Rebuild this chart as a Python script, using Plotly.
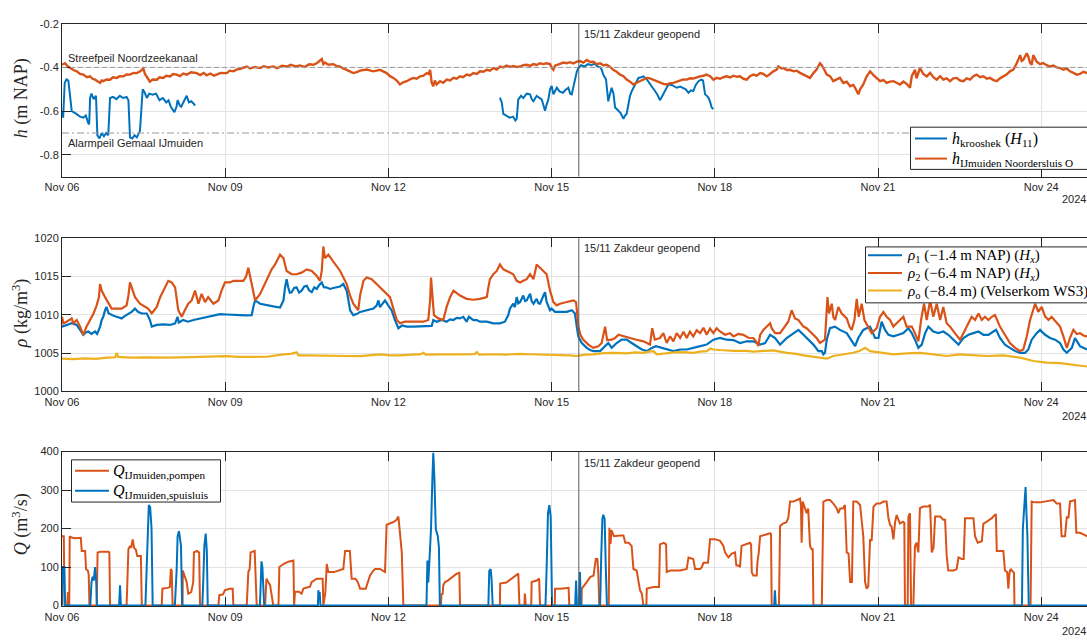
import pandas as pd
import plotly.graph_objects as go

# ---------------------------------------------------------------------------
# Time base: every series is stored as (hours since T0, value)
# ---------------------------------------------------------------------------
T0 = pd.Timestamp("2024-11-06 00:00")
T_END_HOURS = 452.2
T_ZAKDEUR = pd.Timestamp("2024-11-15 12:00")

BLUE = "#0072BD"
ORANGE = "#D95319"
YELLOW = "#EDB120"
INK = "#262626"
GRID = "#e3e3e3"

# Water level at the trash rack (two measurement periods), m NAP
h_krooshek_a = [
    (0, -0.60), (0.5, -0.63), (1.2, -0.47), (2, -0.455), (2.8, -0.46), (3.5, -0.53), (4.3, -0.60),
    (6, -0.61), (8, -0.625), (9.4, -0.63), (10.5, -0.62), (11.6, -0.655), (12, -0.66), (12.4, -0.54),
    (13, -0.52), (14, -0.545), (15, -0.53), (15.6, -0.71), (16.5, -0.725), (17.5, -0.70), (18.5, -0.715),
    (19.5, -0.70), (20.4, -0.71), (21.2, -0.54), (22.5, -0.535), (24, -0.545), (25.5, -0.53), (27, -0.54),
    (28.5, -0.535), (29.3, -0.55), (30, -0.72), (31, -0.725), (32, -0.71), (33, -0.72), (34.4, -0.69),
    (35.6, -0.50), (36.5, -0.515), (37.4, -0.54), (38.5, -0.52), (40, -0.525), (41.5, -0.52), (43, -0.55),
    (44.5, -0.54), (46, -0.56), (47, -0.55), (48, -0.58), (49.6, -0.605), (50.5, -0.58), (51, -0.55),
    (52, -0.575), (52.6, -0.58), (54, -0.55), (55, -0.53), (56, -0.56), (57, -0.555), (58, -0.565),
    (58.7, -0.575),
]
h_krooshek_b = [
    (193.2, -0.538), (194, -0.56), (194.7, -0.613), (196, -0.62), (197.5, -0.63), (199, -0.625),
    (200, -0.643), (200.6, -0.635), (201.3, -0.546), (202.5, -0.53), (203.5, -0.54), (205, -0.52),
    (206.5, -0.523), (207.2, -0.545), (208, -0.555), (209.4, -0.53), (210.5, -0.54), (211.6, -0.546),
    (212.3, -0.57), (213.1, -0.598), (213.8, -0.57), (214.6, -0.546), (215.3, -0.5), (216, -0.485),
    (216.8, -0.523), (217.5, -0.51), (218.3, -0.493), (219.5, -0.51), (221, -0.516), (221.9, -0.506),
    (223.4, -0.493), (224.2, -0.52), (224.9, -0.523), (225.6, -0.49), (226.3, -0.456), (227.1, -0.42),
    (227.8, -0.403), (229, -0.39), (230.5, -0.396), (232, -0.385), (233.5, -0.39), (235, -0.383),
    (236.2, -0.395), (237.4, -0.4), (238.1, -0.41), (238.8, -0.433), (240, -0.455), (241, -0.555),
    (241.8, -0.52), (242.5, -0.493), (243.3, -0.52), (244, -0.583), (245.5, -0.598), (246.5, -0.61),
    (247.7, -0.635), (248.4, -0.62), (249.1, -0.613), (250, -0.56), (250.6, -0.53), (251.3, -0.51),
    (252.1, -0.493), (253, -0.47), (254.3, -0.448), (255.5, -0.445), (256.5, -0.441), (258, -0.455),
    (259.4, -0.478), (260.5, -0.49), (261.6, -0.508), (262.7, -0.525), (263.8, -0.55), (264.9, -0.53),
    (266, -0.508), (267.5, -0.478), (269, -0.48), (270, -0.485), (271.2, -0.493), (272.7, -0.488),
    (274.1, -0.493), (275.2, -0.5), (276.4, -0.516), (277.5, -0.505), (278.5, -0.508), (279.6, -0.48),
    (280.8, -0.463), (282, -0.456), (282.8, -0.46), (283.7, -0.523), (284.5, -0.53), (285.3, -0.54),
    (286, -0.56), (286.6, -0.583), (287.4, -0.59),
]

# Water level IJmuiden Noordersluis (outer side), m NAP
h_noordersluis = [
    (0, -0.388), (1.3, -0.381), (2.5, -0.395), (3.5, -0.403), (5, -0.412), (6.5, -0.418), (8, -0.43),
    (9.4, -0.433), (11, -0.445), (12.4, -0.441), (13.5, -0.452), (14.6, -0.456), (15.7, -0.462),
    (16.8, -0.471), (17.5, -0.46), (18.2, -0.463), (19.7, -0.455), (21.2, -0.456), (22.5, -0.445),
    (24.1, -0.448), (25.5, -0.44), (27.1, -0.441), (28.5, -0.432), (30, -0.433), (31.5, -0.425),
    (33, -0.426), (34.5, -0.418), (35.9, -0.405), (36.6, -0.43), (37.4, -0.441), (38.8, -0.465),
    (40, -0.455), (41.8, -0.456), (43, -0.445), (44.7, -0.448), (46, -0.438), (47.7, -0.441),
    (49, -0.43), (50.6, -0.433), (52, -0.44), (53.5, -0.428), (55, -0.433), (57, -0.422), (59.4, -0.426),
    (61, -0.435), (62.5, -0.425), (63.8, -0.436), (65.5, -0.428), (67, -0.438), (68.2, -0.433),
    (70, -0.425), (72.7, -0.426), (74, -0.415), (75.6, -0.418), (77, -0.41), (79, -0.405), (81.5, -0.396),
    (83, -0.405), (85, -0.398), (87.4, -0.403), (89, -0.395), (91, -0.4), (93.2, -0.396), (95, -0.404),
    (97, -0.392), (99.1, -0.396), (101, -0.388), (103, -0.395), (105, -0.391), (107, -0.398),
    (109, -0.386), (110.9, -0.388), (112.5, -0.38), (114.6, -0.362), (115.3, -0.385), (116, -0.378),
    (117.5, -0.388), (119.7, -0.385), (121, -0.393), (122.7, -0.396), (124, -0.405), (125.6, -0.411),
    (127, -0.42), (128.5, -0.426), (130, -0.422), (131.5, -0.415), (134.4, -0.41), (137.4, -0.418),
    (140.3, -0.411), (143.2, -0.426), (144.7, -0.44), (146.2, -0.448), (147.7, -0.46), (149.1, -0.478),
    (150.5, -0.468), (152.1, -0.463), (153.5, -0.455), (155, -0.448), (156.5, -0.452), (158, -0.441),
    (159.5, -0.438), (160.9, -0.426), (161.7, -0.43), (162.4, -0.411), (163.1, -0.47), (163.8, -0.486),
    (164.5, -0.46), (165.3, -0.478), (166.8, -0.463), (168.2, -0.47), (169.7, -0.456), (171.2, -0.46),
    (172.7, -0.448), (174.1, -0.452), (175.6, -0.441), (177, -0.445), (178.5, -0.433), (180, -0.437),
    (181.5, -0.426), (183, -0.43), (184.4, -0.418), (185.9, -0.42), (187.4, -0.411), (188.8, -0.415),
    (190.3, -0.403), (191.8, -0.41), (193.2, -0.396), (194.7, -0.4), (196.2, -0.392), (197.7, -0.398),
    (199.1, -0.394), (200.6, -0.398), (202.1, -0.396), (203.5, -0.39), (205, -0.388), (206.5, -0.393),
    (208, -0.385), (209.4, -0.389), (210.9, -0.381), (212.4, -0.385), (213.8, -0.381), (215.3, -0.385),
    (216.3, -0.405), (216.8, -0.411), (217.5, -0.392), (218.3, -0.388), (219.7, -0.384), (221.2, -0.378),
    (222.7, -0.381), (224.1, -0.376), (225.6, -0.382), (227.1, -0.374), (228.5, -0.371), (230, -0.378),
    (231.5, -0.366), (233, -0.375), (234.4, -0.374), (235.9, -0.385), (237.4, -0.381), (238.8, -0.39),
    (240.3, -0.388), (241.8, -0.398), (243.2, -0.411), (244.7, -0.42), (246.2, -0.433), (247.7, -0.44),
    (249.1, -0.456), (250.6, -0.465), (252.1, -0.478), (253.5, -0.47), (255, -0.463), (256.5, -0.455),
    (258, -0.448), (259.4, -0.45), (260.9, -0.456), (262.4, -0.465), (263.8, -0.471), (265.3, -0.475),
    (266.8, -0.478), (268.3, -0.472), (269.7, -0.471), (271.2, -0.466), (272.7, -0.463), (274.1, -0.455),
    (275.6, -0.456), (277.1, -0.45), (278.5, -0.451), (280, -0.445), (281.5, -0.441), (283, -0.438),
    (284.4, -0.433), (285.9, -0.44), (287.4, -0.456), (288.8, -0.448), (290.3, -0.452), (291.8, -0.445),
    (293.2, -0.441), (294.7, -0.446), (296.2, -0.438), (297.7, -0.443), (299.1, -0.441), (300.6, -0.452),
    (302.1, -0.456), (303.5, -0.44), (305, -0.433), (306.5, -0.438), (308, -0.426), (309.4, -0.43),
    (310.9, -0.441), (312.4, -0.43), (313.8, -0.418), (315.3, -0.41), (316, -0.396), (317.5, -0.405),
    (318.3, -0.403), (319.7, -0.412), (321.2, -0.411), (322.7, -0.418), (324.1, -0.415), (325.6, -0.425),
    (327.1, -0.433), (328.5, -0.44), (330, -0.448), (331.5, -0.426), (332.9, -0.41), (334.4, -0.381),
    (335.2, -0.39), (335.9, -0.403), (337.4, -0.433), (338.8, -0.44), (340.3, -0.463), (341.8, -0.455),
    (343.2, -0.448), (344.7, -0.471), (346.2, -0.465), (347.7, -0.486), (349.1, -0.48), (349.9, -0.493),
    (351.3, -0.523), (352.1, -0.5), (353.5, -0.478), (355, -0.441), (356.5, -0.418), (358, -0.435),
    (359.4, -0.448), (360.9, -0.463), (362.4, -0.458), (363.8, -0.471), (365.3, -0.465), (366.8, -0.463),
    (368.2, -0.47), (369.7, -0.478), (371.2, -0.465), (372.6, -0.475), (374.1, -0.493), (374.9, -0.44),
    (376.3, -0.411), (377, -0.45), (378.5, -0.403), (380, -0.43), (381.5, -0.441), (383, -0.425),
    (384.4, -0.445), (385.9, -0.456), (387.4, -0.44), (388.8, -0.456), (390.3, -0.45), (391.8, -0.463),
    (393.2, -0.45), (394.7, -0.448), (396.2, -0.46), (397.7, -0.463), (399.1, -0.45), (400.6, -0.456),
    (402.1, -0.44), (403.5, -0.433), (405, -0.445), (406.5, -0.441), (408, -0.452), (409.4, -0.448),
    (410.9, -0.458), (412.4, -0.463), (413.8, -0.45), (415.3, -0.441), (416.7, -0.433), (418.2, -0.418),
    (419.7, -0.41), (421.2, -0.381), (422.7, -0.344), (423.4, -0.37), (424.1, -0.366), (425.6, -0.336),
    (426.3, -0.35), (427.1, -0.38), (427.8, -0.388), (428.5, -0.344), (429.3, -0.36), (430, -0.374),
    (431.5, -0.385), (432.9, -0.38), (434.4, -0.39), (435.9, -0.396), (437.4, -0.392), (438.8, -0.4),
    (440.3, -0.403), (441.8, -0.411), (443.3, -0.405), (444.7, -0.418), (446.2, -0.425), (447.7, -0.433),
    (449.1, -0.43), (450.6, -0.42), (452.2, -0.426),
]

# Density at -1.4 m NAP (kg/m3)
rho_1 = [
    (0, 1008.46), (2, 1008.7), (4.3, 1008.9), (6.5, 1008.68), (8, 1008.03), (9.4, 1007.39), (10.5, 1007.7),
    (11.6, 1007.82), (13, 1007.5), (14.6, 1007.82), (15.5, 1007.5), (16.8, 1008.46), (17.5, 1009.3),
    (18.2, 1009.74), (19, 1010.6), (19.7, 1011.03), (20.5, 1010.2), (21.9, 1009.96), (23, 1009.85),
    (24.1, 1009.74), (25.5, 1009.6), (26.3, 1009.53), (27.5, 1009.8), (28.5, 1009.96), (29.5, 1010.2),
    (30.7, 1010.38), (32.2, 1010.81), (33.5, 1010.4), (35.2, 1010.17), (37.4, 1010.17), (38.8, 1009.32),
    (39.6, 1008.46), (41.8, 1008.68), (44.7, 1008.75), (47.7, 1008.68), (49.9, 1008.89), (51, 1009.74),
    (51.5, 1009.0), (53.5, 1009.32), (55.5, 1009.1), (58, 1009.32), (60.9, 1009.53), (63.8, 1009.74),
    (66.8, 1009.96), (69.7, 1010.08), (72.7, 1010.04), (75.6, 1009.96), (78.5, 1009.96), (81.5, 1009.92),
    (83.7, 1009.96), (84.4, 1011.03), (85.2, 1011.88), (87.4, 1011.45), (90.3, 1011.24), (93.2, 1011.1),
    (96.2, 1010.95), (97.7, 1011.88), (98.4, 1013.59), (99.1, 1014.66), (99.8, 1013.6), (100.5, 1012.9),
    (101.3, 1012.95), (102.4, 1013.5), (103.5, 1013.59), (104.6, 1012.9), (105.7, 1013.16),
    (106.9, 1013.7), (108, 1013.8), (109, 1013.2), (110.2, 1012.95), (111.3, 1013.6), (112.4, 1013.38),
    (113.5, 1013.9), (114.6, 1014.23), (115.5, 1013.6), (116.5, 1013.59), (118.3, 1013.38),
    (119.7, 1013.5), (121.2, 1013.59), (122.7, 1013.7), (124.1, 1014.02), (125.6, 1013.16),
    (126.3, 1012.0), (127.1, 1010.6), (128.5, 1009.96), (130, 1010.1), (131.5, 1010.38), (134.4, 1010.6),
    (137.4, 1010.81), (138.8, 1011.2), (139.6, 1011.88), (140.3, 1011.0), (141.2, 1011.3),
    (142.5, 1011.88), (144, 1011.2), (145.4, 1010.6), (146.9, 1009.32), (148.4, 1008.25), (150, 1008.6),
    (152.1, 1008.46), (155, 1008.46), (158, 1008.46), (160.9, 1008.46), (163.1, 1008.55),
    (163.8, 1009.32), (165.3, 1009.1), (167.5, 1009.32), (169.7, 1009.1), (171.2, 1009.4),
    (172.7, 1009.32), (174.1, 1009.6), (175.6, 1009.53), (177, 1009.74), (178.5, 1009.1),
    (179.5, 1009.74), (181.5, 1009.3), (183, 1009.32), (184.4, 1009.1), (187.4, 1009.1), (190.3, 1008.89),
    (193.2, 1008.89), (195.4, 1009.1), (196.9, 1009.96), (197.6, 1010.81), (199.1, 1011.45),
    (199.8, 1011.0), (200.6, 1012.31), (201.3, 1011.5), (202.1, 1011.67), (203.5, 1012.52),
    (204.3, 1011.8), (205, 1011.88), (206.5, 1012.74), (207.2, 1011.8), (208, 1011.45), (209.4, 1012.09),
    (210.2, 1011.5), (210.9, 1011.45), (212.4, 1012.52), (213.1, 1012.95), (213.8, 1011.67),
    (215.3, 1010.6), (216, 1010.81), (217.5, 1010.38), (219.7, 1010.38), (222.7, 1010.38),
    (224.9, 1010.6), (226.3, 1010.17), (227.1, 1008.46), (227.8, 1007.18), (229.3, 1006.32),
    (231.5, 1005.68), (233, 1005.4), (234.4, 1005.26), (237.4, 1005.26), (239.6, 1005.9), (241, 1006.32),
    (242.5, 1005.68), (244.7, 1006.32), (246.9, 1006.75), (249.1, 1006.75), (251.3, 1006.32),
    (253.5, 1005.9), (255.8, 1005.47), (258, 1005.26), (260.2, 1005.68), (262, 1005.9), (264.6, 1005.68),
    (266.8, 1005.47), (269.7, 1005.26), (272.7, 1005.47), (275.6, 1005.47), (278.5, 1005.68),
    (281.5, 1005.9), (284.4, 1006.11), (287.4, 1006.75), (290.3, 1006.97), (293.2, 1006.75),
    (296.2, 1006.7), (299.1, 1006.32), (302.1, 1006.54), (305, 1006.54), (308, 1006.11), (310.2, 1006.32),
    (312.4, 1007.39), (314.6, 1006.97), (316.8, 1006.11), (319.7, 1006.97), (322.7, 1007.61),
    (324.9, 1008.03), (327.1, 1007.39), (329.3, 1006.75), (331.5, 1006.11), (333.7, 1005.26),
    (335.2, 1005.26), (335.9, 1004.83), (336.6, 1005.04), (337.4, 1006.75), (338.8, 1008.25),
    (341, 1008.46), (343.2, 1008.03), (346.2, 1007.61), (348.4, 1006.54), (349.9, 1005.9),
    (351.3, 1006.97), (353.5, 1008.03), (355, 1008.25), (356.5, 1008.46), (358.7, 1006.97),
    (360.2, 1006.97), (361.6, 1009.1), (363.1, 1008.03), (364.6, 1007.39), (366.8, 1007.18),
    (369, 1007.39), (371.2, 1007.61), (373.4, 1008.25), (374.9, 1007.61), (376.3, 1006.75),
    (377.8, 1005.68), (379.3, 1006.11), (380.8, 1007.61), (382.2, 1008.46), (384.4, 1007.82),
    (386.6, 1007.61), (388.8, 1007.82), (391, 1007.39), (393.2, 1006.75), (395.5, 1006.11),
    (397.7, 1006.97), (399.9, 1007.39), (402.1, 1007.61), (404.3, 1007.82), (406.5, 1007.39),
    (408.7, 1007.39), (410.9, 1007.82), (412.1, 1008.03), (413.8, 1006.97), (416, 1006.11),
    (418.2, 1005.68), (420.5, 1005.26), (422.7, 1005.04), (424.9, 1005.04), (426.3, 1005.47),
    (427.8, 1006.75), (430, 1007.61), (431.5, 1008.03), (433.7, 1007.39), (435.9, 1006.97),
    (438.1, 1006.75), (440.3, 1006.32), (441.8, 1005.47), (443.3, 1005.04), (445.5, 1005.68),
    (446.9, 1006.97), (449.1, 1005.9), (452.2, 1005.47),
]

# Density at -6.4 m NAP (kg/m3)
rho_2 = [
    (0, 1009.74), (0.6, 1008.89), (2, 1009.1), (4.3, 1009.53), (5, 1008.89), (6.5, 1009.32), (8, 1008.46),
    (9.4, 1007.39), (10.8, 1008.46), (12.4, 1009.32), (13.9, 1010.17), (15.3, 1011.24), (16.3, 1012.31),
    (16.8, 1014.02), (17.5, 1013.16), (19, 1012.31), (20.5, 1011.45), (21.9, 1010.81), (24.1, 1010.81),
    (26.3, 1010.81), (28.5, 1011.24), (29.3, 1012.5), (30, 1014.23), (30.7, 1013.59), (32.2, 1012.31),
    (34.4, 1011.45), (36.6, 1011.03), (38, 1010.81), (39.6, 1010.17), (41.8, 1011.03), (43.3, 1012.31),
    (45.4, 1013.59), (46.9, 1014.44), (48.4, 1014.23), (49.9, 1013.59), (51.3, 1010.6), (52.8, 1009.74),
    (54.2, 1010.6), (55.7, 1011.45), (57.2, 1011.88), (58.7, 1013.16), (60.2, 1011.45), (61.6, 1012.74),
    (63.1, 1011.67), (64.5, 1012.31), (66.8, 1011.45), (69, 1011.88), (70.4, 1013.16), (71.9, 1014.23),
    (74.1, 1014.23), (75.6, 1014.44), (78.5, 1014.44), (80, 1014.44), (81.2, 1015.0), (82.2, 1016.15),
    (83.7, 1014.02), (85.2, 1011.88), (87.4, 1012.74), (90.3, 1014.44), (92.5, 1015.94), (94, 1016.58),
    (96.2, 1017.86), (97.7, 1017.4), (99.1, 1015.73), (101.3, 1015.3), (103.5, 1015.3), (105.7, 1015.51),
    (108, 1015.94), (110.2, 1015.73), (112.4, 1015.09), (113.8, 1014.44), (114.6, 1015.73),
    (115.3, 1018.93), (116, 1017.4), (117.5, 1017.86), (119.7, 1017.0), (122.7, 1015.73),
    (125.6, 1014.02), (127.1, 1012.5), (128.5, 1011.45), (130.7, 1010.6), (131.5, 1012.52),
    (133, 1014.44), (134.4, 1014.87), (136.6, 1014.66), (138.8, 1014.02), (141, 1013.38),
    (142.5, 1012.95), (144.7, 1012.31), (146.2, 1010.81), (147.7, 1009.32), (149.1, 1008.89),
    (151.3, 1009.1), (153.5, 1009.1), (156.5, 1009.1), (159.4, 1009.1), (161.6, 1009.32),
    (162.4, 1011.88), (162.8, 1014.87), (163.5, 1011.88), (164.1, 1009.96), (166, 1009.53),
    (168.2, 1009.32), (169.7, 1011.03), (171.2, 1012.31), (172.7, 1013.16), (175.6, 1012.52),
    (178.5, 1012.09), (181.5, 1011.97), (184.4, 1012.09), (187.4, 1012.31), (188.1, 1013.59),
    (188.8, 1014.66), (190.3, 1015.3), (191.8, 1015.73), (193.2, 1016.58), (194.7, 1015.94),
    (196.2, 1015.73), (197.7, 1015.51), (199.1, 1015.3), (200.6, 1014.44), (202.1, 1014.23),
    (203.5, 1014.44), (205, 1014.66), (206.5, 1015.3), (208, 1014.66), (209.4, 1016.58),
    (210.9, 1016.15), (212.4, 1015.73), (213.8, 1015.3), (215.3, 1013.16), (216.8, 1011.67),
    (218.3, 1011.24), (219.7, 1011.45), (222.7, 1011.67), (225.6, 1011.88), (226.8, 1011.67),
    (227.8, 1008.46), (228.7, 1007.39), (230, 1006.75), (232.2, 1006.11), (234.4, 1005.68),
    (236.6, 1005.9), (238.1, 1006.32), (239.6, 1008.46), (240.5, 1006.7), (242.5, 1006.75),
    (244, 1006.97), (245.5, 1007.39), (247.7, 1007.18), (250.6, 1006.97), (253.5, 1006.75),
    (256.5, 1006.54), (259.4, 1006.11), (260.4, 1008.25), (261.5, 1006.75), (263.8, 1006.97),
    (265.3, 1007.6), (266.8, 1006.32), (268.3, 1007.2), (269.7, 1006.54), (271.2, 1007.6),
    (272.7, 1006.97), (274.2, 1007.8), (275.6, 1006.97), (277, 1007.8), (278.5, 1007.18), (280, 1008.0),
    (281.5, 1007.61), (283, 1008.3), (284.4, 1007.39), (285.9, 1008.2), (287.4, 1007.61),
    (288.8, 1008.25), (290.3, 1007.82), (292.5, 1007.4), (294.7, 1007.6), (296.2, 1007.18),
    (298.4, 1007.5), (300.6, 1007.39), (302.8, 1007.0), (305, 1006.97), (306.5, 1006.4), (307.2, 1005.9),
    (308, 1007.39), (309.4, 1008.03), (310.9, 1008.46), (312.4, 1008.89), (313.1, 1008.25),
    (314.6, 1007.61), (316.8, 1007.61), (319, 1008.46), (320.4, 1009.1), (321.9, 1010.6),
    (323.4, 1009.53), (324.9, 1009.32), (327.1, 1008.46), (328.5, 1008.25), (330.7, 1007.61),
    (332.9, 1006.97), (334.4, 1006.32), (336.6, 1006.75), (337.7, 1012.31), (338.4, 1010.17),
    (339.6, 1011.45), (340.3, 1009.7), (341.1, 1009.32), (342.5, 1011.03), (344, 1010.17),
    (346.2, 1009.53), (347.5, 1008.4), (348.4, 1008.03), (349.6, 1009.32), (350.6, 1012.09),
    (351.5, 1009.74), (352.8, 1011.45), (354, 1009.32), (355.7, 1008.46), (357.2, 1007.61),
    (359.4, 1008.25), (360.9, 1009.74), (362.4, 1010.38), (363.8, 1009.74), (365.3, 1009.32),
    (366.8, 1008.46), (368.2, 1008.89), (369.7, 1009.32), (371.2, 1009.74), (372.6, 1008.46),
    (374.9, 1008.46), (376.3, 1007.61), (377.8, 1006.54), (379, 1009.32), (380.3, 1011.45),
    (381.5, 1009.32), (383, 1011.88), (384.4, 1009.74), (385.9, 1011.45), (387.4, 1009.32),
    (388.8, 1011.03), (390.3, 1008.89), (391.8, 1008.46), (393.9, 1007.61), (396.2, 1006.75),
    (398.4, 1008.03), (399.9, 1008.89), (401.3, 1009.74), (402.8, 1009.32), (404.3, 1010.17),
    (405.8, 1009.32), (407.2, 1009.74), (408.7, 1009.32), (410.2, 1009.74), (411.6, 1009.96),
    (413.8, 1008.46), (416, 1007.39), (418.2, 1006.32), (420.5, 1005.68), (422.7, 1005.26),
    (424.1, 1005.47), (425.6, 1007.18), (427.1, 1009.32), (429.3, 1011.45), (430.7, 1010.4),
    (432.2, 1011.03), (433.7, 1009.8), (435.2, 1009.32), (436.6, 1009.74), (438.8, 1008.89),
    (440.3, 1008.46), (441.8, 1007.18), (443.3, 1005.68), (444.7, 1007.0), (446.2, 1008.03),
    (447.7, 1007.5), (449.1, 1007.61), (450.6, 1007.3), (452.2, 1007.18),
]

# Density at -8.4 m, Velserkom WS3 (kg/m3)
rho_o = [
    (0, 1004.27), (5, 1004.2), (10, 1004.3), (15, 1004.25), (20, 1004.4), (23.5, 1004.45), (24.1, 1005.0),
    (24.8, 1004.5), (28, 1004.45), (31.5, 1004.4), (36, 1004.45), (40, 1004.4), (46.2, 1004.4),
    (52, 1004.45), (60.9, 1004.48), (67, 1004.55), (72.7, 1004.6), (78, 1004.5), (84.4, 1004.52),
    (90.3, 1004.52), (97.7, 1004.83), (101, 1004.9), (103.5, 1005.1), (104.3, 1004.7), (108, 1004.7),
    (113.8, 1004.7), (119.7, 1004.62), (125.6, 1004.62), (131.5, 1004.6), (136, 1004.75),
    (140.3, 1004.83), (145, 1004.7), (149.1, 1004.7), (154, 1004.8), (158, 1004.83), (159.5, 1005.04),
    (160.5, 1004.8), (166.8, 1004.83), (172, 1004.8), (175.6, 1004.83), (182, 1004.85), (183, 1005.13),
    (184, 1004.8), (190, 1004.85), (196, 1004.8), (202.1, 1004.9), (206, 1004.85), (210.9, 1004.83),
    (215, 1004.75), (219.7, 1004.75), (224, 1004.7), (227.1, 1004.62), (231, 1004.8), (234.4, 1004.83),
    (239, 1005.0), (243.2, 1005.04), (249.1, 1004.96), (253, 1005.1), (256.5, 1005.04), (259, 1005.2),
    (260.9, 1005.26), (262.4, 1004.83), (266.8, 1005.0), (271.2, 1005.13), (275.6, 1005.1),
    (278.5, 1005.04), (281.5, 1005.2), (284.4, 1005.26), (286, 1005.6), (287.4, 1005.47),
    (290.3, 1005.4), (296.2, 1005.3), (302, 1005.3), (305, 1005.2), (310, 1005.3), (313.8, 1005.35),
    (319.7, 1005.04), (324, 1004.9), (327.1, 1004.7), (331, 1004.55), (334.4, 1004.4), (337.4, 1004.27),
    (340.3, 1004.62), (345, 1004.83), (349.1, 1005.04), (352, 1005.3), (354.3, 1005.68),
    (356.5, 1005.26), (360.9, 1005.04), (366.8, 1004.83), (372.7, 1004.96), (378.5, 1005.04),
    (384.4, 1004.83), (390.3, 1004.62), (396, 1004.83), (402.1, 1004.7), (408, 1004.62),
    (415.3, 1004.7), (422.7, 1004.4), (428.6, 1003.97), (434.4, 1003.76), (440.3, 1003.68),
    (444.7, 1003.55), (449.1, 1003.33), (452.2, 1003.25),
]

# Discharge pumping station IJmuiden (m3/s)
q_pompen = [
    (0, 180), (0.8, 180), (1.1, 0), (2.3, 0), (2.6, 35), (2.9, 0), (3.2, 0), (3.4, 180), (4.5, 176),
    (6, 175), (8.3, 176), (8.7, 142), (10.2, 142), (10.6, 95), (11.5, 90), (11.8, 78), (12.1, 0),
    (15.3, 0), (15.7, 138), (17, 140), (20.5, 140), (20.9, 138), (21.2, 0), (28.5, 0), (29.3, 146),
    (30, 155), (30.5, 150), (31.2, 172), (31.8, 150), (32.6, 145), (33.2, 129), (34.8, 129), (35.2, 0),
    (44, 0), (44.3, 44), (46.5, 46), (47.6, 48), (48, 95), (48.4, 91), (48.8, 0), (53.2, 0), (53.3, 91),
    (53.8, 82), (54.4, 70), (55, 61), (55.7, 31), (57, 35), (57.9, 61), (58.2, 138), (59.5, 142),
    (60.5, 138), (60.9, 0), (69, 0), (69.4, 27), (71, 29), (71.9, 40), (74.1, 44), (75.3, 44), (75.6, 0),
    (81.5, 0), (82.2, 87), (82.8, 95), (83.2, 138), (85, 142), (85.5, 78), (85.9, 0), (89.6, 0),
    (90.2, 70), (91, 61), (91.8, 53), (92.5, 27), (93.2, 0), (95.5, 0), (95.9, 100), (97.7, 108),
    (99.9, 114), (102.1, 117), (102.4, 0), (102.8, 36), (104.5, 36), (105.7, 31), (106.5, 44),
    (109.4, 49), (110.1, 61), (112.4, 70), (115, 70), (115.3, 0), (116.2, 35), (116.8, 108), (117.5, 87),
    (120, 87), (122.7, 91), (124.1, 95), (124.9, 142), (127, 142), (127.8, 70), (129.5, 70),
    (130.5, 61), (131.5, 44), (134, 44), (135.9, 78), (137.4, 91), (138.1, 95), (140.3, 95), (142.5, 87),
    (143.2, 210), (145, 214), (146.2, 217), (147.5, 222), (148.4, 231), (149.1, 189), (149.9, 138),
    (150.6, 0), (167.2, 0), (167.4, 31), (167.9, 28), (168.2, 53), (169, 61), (170.2, 65), (172, 74),
    (174.1, 83), (175.3, 85), (175.6, 0), (193.2, 0), (193.3, 57), (196, 60), (198.4, 70), (200.6, 78),
    (201.3, 83), (201.8, 0), (204, 0), (204.2, 31), (204.6, 0), (207, 0), (207.2, 61), (209.4, 65),
    (210.5, 70), (210.9, 0), (217.4, 0), (217.5, 44), (220, 44), (223.5, 46), (223.8, 0), (229.2, 0),
    (229.3, 44), (231.5, 61), (233, 74), (234.5, 78), (235.5, 121), (236.2, 121), (236.6, 87), (237, 0),
    (241.2, 0), (241.5, 202), (242, 160), (242.4, 196), (243.5, 180), (246.2, 182), (247.7, 182),
    (248.5, 163), (250, 163), (251.3, 155), (252.1, 95), (253.5, 91), (254.3, 61), (255, 40),
    (255.8, 31), (256.5, 0), (257.8, 0), (258, 44), (260.9, 48), (263.4, 48), (263.8, 159),
    (265.5, 163), (266.5, 159), (266.8, 87), (268.3, 91), (272.7, 91), (275.6, 95), (276.4, 125),
    (278.5, 121), (279.3, 95), (281.5, 95), (282.2, 99), (283, 111), (285, 111), (285.9, 172),
    (288, 172), (289.5, 170), (290.3, 168), (291.8, 155), (292.5, 138), (294, 125), (295.5, 135),
    (296.9, 138), (297.5, 104), (298.5, 104), (299.1, 100), (299.8, 155), (301.3, 159), (303.5, 163),
    (304, 159), (304.3, 87), (305, 78), (306.5, 78), (306.8, 112), (307.4, 138), (308, 180),
    (310.2, 185), (312.4, 188), (312.8, 185), (313.1, 0), (316.3, 0), (316.8, 206), (318, 213),
    (319.5, 216), (320.4, 227), (321.2, 270), (322.7, 270), (324.1, 274), (325.6, 278), (326, 260),
    (326.3, 163), (326.8, 270), (328.5, 240), (329.2, 252), (330, 155), (330.7, 146), (331.2, 146),
    (331.5, 0), (335.2, 0), (335.9, 270), (337.5, 274), (338.8, 274), (340.3, 265), (341.8, 252),
    (342.5, 240), (343.3, 252), (344.5, 252), (345.4, 261), (346.2, 138), (347, 135), (347.7, 61),
    (348.5, 61), (349.1, 270), (350.6, 270), (352.1, 261), (353.5, 180), (354.3, 61), (355, 44),
    (355.7, 50), (356.5, 172), (357.2, 168), (358, 257), (359.4, 265), (360.9, 265), (362.4, 270),
    (363.8, 270), (364.6, 227), (365.3, 210), (366, 205), (366.8, 172), (367.5, 215), (368.2, 235),
    (369.7, 213), (371, 218), (371.6, 215), (371.9, 0), (373.1, 0), (373.4, 231), (374.1, 240),
    (374.6, 0), (375.6, 0), (376.3, 155), (377, 163), (377.8, 138), (378.5, 253), (380, 257),
    (382.2, 257), (383, 262), (383.7, 138), (384.5, 150), (385.2, 231), (387.4, 231), (388.8, 223),
    (389.6, 223), (390.3, 129), (391, 91), (393.3, 91), (394.7, 95), (395.5, 125), (396.9, 121),
    (397.8, 121), (398.4, 227), (400.6, 227), (402.1, 227), (402.8, 180), (404, 163), (405.8, 167),
    (406.5, 213), (408, 218), (410.2, 227), (411.6, 236), (412, 236), (412.4, 142), (413.8, 142),
    (415.3, 142), (416, 91), (417, 87), (417.5, 44), (418, 85), (418.5, 95), (419.7, 85), (420, 85),
    (420.2, 0), (427.3, 0), (427.8, 270), (429.3, 268), (431.5, 268), (434.4, 270), (436, 272),
    (437.4, 274), (438.8, 265), (440.3, 265), (441, 180), (442.5, 180), (443.3, 231), (444, 227),
    (444.7, 270), (446.2, 274), (446.9, 274), (447.5, 189), (449.1, 189), (450.6, 185), (452.2, 180),
]

# Discharge sluice IJmuiden (m3/s)
q_spuisluis = [
    (0, 0), (0.4, 100), (1.0, 100), (1.4, 0), (12.5, 0), (13, 60), (13.5, 75), (14, 65), (14.6, 100),
    (15.1, 60), (15.4, 0), (25.2, 0), (25.6, 53), (26, 0), (36.8, 0), (37.3, 78), (37.7, 180),
    (38.3, 261), (38.9, 255), (39.5, 200), (40, 0), (49.8, 0), (50.6, 95), (51, 180), (51.6, 193),
    (52.1, 165), (52.5, 155), (53, 0), (61.9, 0), (62.3, 60), (62.8, 155), (63.4, 187), (63.9, 140),
    (64.3, 0), (87.3, 0), (87.6, 45), (88, 115), (88.4, 100), (88.8, 60), (89.2, 0), (112.9, 0),
    (113.1, 40), (113.4, 20), (113.7, 35), (114, 0), (160.8, 0), (161.2, 117), (161.6, 60),
    (162.1, 117), (162.8, 200), (163.4, 330), (163.8, 397), (164.3, 330), (164.9, 200), (165.3, 190),
    (165.8, 180), (166.3, 150), (166.7, 0), (188.1, 0), (188.5, 90), (189.1, 95), (189.5, 70),
    (190, 0), (213.3, 0), (213.8, 95), (214.4, 240), (215, 261), (215.6, 230), (216.2, 0), (226.4, 0),
    (226.8, 65), (227.2, 0), (228.1, 0), (228.5, 87), (228.9, 0), (237.4, 0), (237.9, 130),
    (238.4, 225), (238.8, 236), (239.4, 225), (239.9, 100), (240.4, 0), (314.2, 0), (314.5, 40),
    (314.9, 0), (423.5, 0), (423.9, 200), (424.6, 257), (425.1, 308), (425.5, 240), (425.9, 180),
    (426.5, 0), (452.2, 0),
]

x_tick_dates = ["2024-11-06", "2024-11-09", "2024-11-12", "2024-11-15",
                "2024-11-18", "2024-11-21", "2024-11-24"]

# Legend labels per panel (colour, label)
legend_h = [
    (BLUE, "<i>h</i><sub>krooshek</sub> (<i>H</i><sub>11</sub>)"),
    (ORANGE, "<i>h</i><sub>IJmuiden Noordersluis O</sub>"),
]
legend_rho = [
    (BLUE, "<i>ρ</i><sub>1</sub> (−1.4 m NAP) (<i>H</i><sub><i>x</i></sub>)"),
    (ORANGE, "<i>ρ</i><sub>2</sub> (−6.4 m NAP) (<i>H</i><sub><i>x</i></sub>)"),
    (YELLOW, "<i>ρ</i><sub>o</sub> (−8.4 m) (Velserkom WS3)"),
]
legend_q = [
    (ORANGE, "<i>Q</i><sub>IJmuiden,pompen</sub>"),
    (BLUE, "<i>Q</i><sub>IJmuiden,spuisluis</sub>"),
]


def stamp(hours):
    return T0 + pd.Timedelta(hours=hours).round("s")


def series(pairs):
    """Split (hours, value) pairs into timestamps and values."""
    xs = [stamp(h) for h, _ in pairs]
    ys = [v for _, v in pairs]
    return xs, ys


fig = go.Figure()

# --- water levels ---------------------------------------------------------
xa, ya = series(h_krooshek_a)
xb, yb = series(h_krooshek_b)
fig.add_trace(go.Scatter(
    x=xa + [None] + xb, y=ya + [None] + yb, mode="lines",
    line=dict(color=BLUE, width=2), xaxis="x", yaxis="y", name="h krooshek"))
x, y = series(h_noordersluis)
fig.add_trace(go.Scatter(
    x=x, y=y, mode="lines", line=dict(color=ORANGE, width=2.4), xaxis="x", yaxis="y",
    name="h IJmuiden Noordersluis O"))

# --- densities --------------------------------------------------------------
for pairs, color, name in [(rho_1, BLUE, "rho 1"), (rho_2, ORANGE, "rho 2"), (rho_o, YELLOW, "rho o")]:
    x, y = series(pairs)
    fig.add_trace(go.Scatter(x=x, y=y, mode="lines", line=dict(color=color, width=2.2),
                             xaxis="x2", yaxis="y2", name=name))

# --- discharges ------------------------------------------------------------
for pairs, color, name in [(q_pompen, ORANGE, "Q pompen"), (q_spuisluis, BLUE, "Q spuisluis")]:
    x, y = series(pairs)
    fig.add_trace(go.Scatter(x=x, y=y, mode="lines", line=dict(color=color, width=2),
                             xaxis="x3", yaxis="y3", name=name))

# --- axes ------------------------------------------------------------------
tick_font = dict(family="Liberation Sans, Arial, sans-serif", size=11, color=INK)
x_range = [T0, stamp(T_END_HOURS)]
x_common = dict(
    domain=[0, 1], range=x_range, tickvals=x_tick_dates, tickformat="%b %d",
    showline=True, linecolor=INK, linewidth=1, mirror="ticks", ticks="inside", ticklen=9,
    tickcolor=INK, showgrid=True, gridcolor=GRID, gridwidth=1, zeroline=False, tickfont=tick_font,
)
y_common = dict(
    showline=True, linecolor=INK, linewidth=1, mirror=False, ticks="inside", ticklen=9,
    tickcolor=INK, showgrid=True, gridcolor=GRID, gridwidth=1, zeroline=False, tickfont=tick_font,
)

H = 642.0
PLOT_L, PLOT_W = 62.0, 1025.0


def px_x(px):
    return (px - PLOT_L) / PLOT_W


def px_y(py):
    return 1 - py / H


def dom(top_px, bottom_px):
    return [px_y(bottom_px), px_y(top_px)]


fig.update_layout(
    xaxis=dict(anchor="y", **x_common),
    xaxis2=dict(anchor="y2", **x_common),
    xaxis3=dict(anchor="y3", **x_common),
    yaxis=dict(anchor="x", domain=dom(18, 174), range=[-0.9, -0.2],
               tickvals=[-0.8, -0.6, -0.4, -0.2], ticktext=["-0.8", "-0.6", "-0.4", "-0.2"], **y_common),
    yaxis2=dict(anchor="x2", domain=dom(236.7, 392.7), range=[1000, 1020],
                tickvals=[1000, 1005, 1010, 1015, 1020], **y_common),
    yaxis3=dict(anchor="x3", domain=dom(454, 611.8), range=[-2, 400],
                tickvals=[0, 100, 200, 300, 400], **y_common),
)

# --- reference lines -------------------------------------------------------
x_lo, x_hi = x_range
shapes = [
    dict(type="line", xref="x", yref="y", x0=x_lo, x1=x_hi, y0=-0.4, y1=-0.4, layer="above",
         line=dict(color="#9a9a9a", width=1, dash="5px,3px")),
    dict(type="line", xref="x", yref="y", x0=x_lo, x1=x_hi, y0=-0.7, y1=-0.7, layer="above",
         line=dict(color="#9a9a9a", width=1, dash="7px,3px,2px,3px")),
]
for xr, yr, (y_lo, y_hi) in [("x", "y", (-0.9, -0.2)), ("x2", "y2", (1000, 1020)),
                             ("x3", "y3", (-2, 400))]:
    shapes.append(dict(type="line", xref=xr, yref=yr, x0=T_ZAKDEUR, x1=T_ZAKDEUR, y0=y_lo, y1=y_hi,
                       layer="above", line=dict(color="#5a5a5a", width=1)))

# --- text ------------------------------------------------------------------
label_font = dict(family="Liberation Sans, Arial, sans-serif", size=11, color=INK)
title_font = dict(family="Liberation Serif, Times New Roman, serif", size=18, color=INK)

annotations = [
    dict(text="Streefpeil Noordzeekanaal", x=px_x(66), y=px_y(53)),
    dict(text="Alarmpeil Gemaal IJmuiden", x=px_x(66), y=px_y(140)),
    dict(text="15/11 Zakdeur geopend", x=px_x(582), y=px_y(29)),
    dict(text="15/11 Zakdeur geopend", x=px_x(582), y=px_y(247)),
    dict(text="15/11 Zakdeur geopend", x=px_x(582), y=px_y(465.5)),
    dict(text="2024", x=px_x(1060), y=px_y(197)),
    dict(text="2024", x=px_x(1060), y=px_y(418)),
    dict(text="2024", x=px_x(1060), y=px_y(637)),
]
for a in annotations:
    a.update(xref="paper", yref="paper", xanchor="left", yanchor="middle", showarrow=False,
             font=label_font)

axis_titles = [
    ("<i>h</i> (m NAP)", 94),
    ("<i>ρ</i> (kg/m<sup>3</sup>)", 314),
    ("<i>Q</i> (m<sup>3</sup>/s)", 528),
]
for text, cy in axis_titles:
    annotations.append(dict(text=text, x=px_x(21), y=px_y(cy), xref="paper", yref="paper",
                            xanchor="center", yanchor="middle", textangle=-90, showarrow=False,
                            font=title_font))


# --- legend boxes (drawn as framed panels with line keys) ---------------------
def add_legend(entries, box, line_x, text_x, rows, size):
    left, top, right, bottom = box
    shapes.append(dict(type="rect", xref="paper", yref="paper", layer="above",
                       x0=px_x(left), x1=px_x(right), y0=px_y(bottom), y1=px_y(top),
                       fillcolor="white", line=dict(color=INK, width=1)))
    for (color, label), row_y in zip(entries, rows):
        shapes.append(dict(type="line", xref="paper", yref="paper", layer="above",
                           x0=px_x(line_x[0]), x1=px_x(line_x[1]), y0=px_y(row_y), y1=px_y(row_y),
                           line=dict(color=color, width=2)))
        annotations.append(dict(text=label, x=px_x(text_x), y=px_y(row_y + 1), xref="paper",
                                yref="paper", xanchor="left", yanchor="middle", showarrow=False,
                                font=dict(family="Liberation Serif, Times New Roman, serif",
                                          size=size, color="black")))


add_legend(legend_h, (910.5, 123.5, 1100, 166.5), (915, 947), 950, (135, 155.5), 16)
add_legend(legend_rho, (865.5, 245.5, 1100, 302.5), (868, 902), 905, (254, 272, 290), 15)
add_legend(legend_q, (71.5, 462.5, 220.5, 505.5), (75, 109), 111, (473.5, 494), 16)

fig.update_layout(shapes=shapes, annotations=annotations)

fig.update_layout(
    width=1087, height=642, margin=dict(l=62, r=0, t=0, b=0),
    paper_bgcolor="white", plot_bgcolor="white", showlegend=False,
)

fig.write_html("out.html")
